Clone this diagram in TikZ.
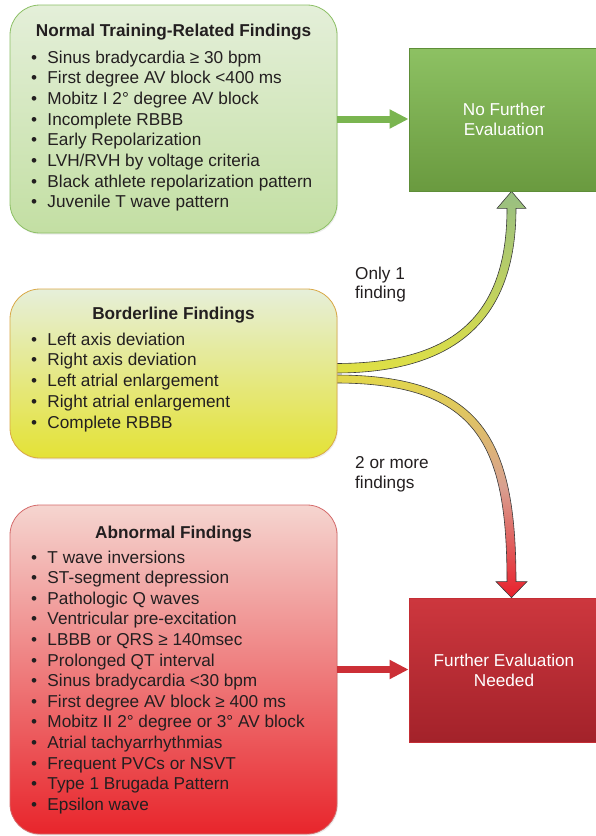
\documentclass[tikz,border=0pt]{standalone}
\usepackage{fontspec}
\setmainfont{Liberation Sans}
\usetikzlibrary{arrows.meta,calc,shadows,backgrounds}

\definecolor{ink}{HTML}{231F20}
\definecolor{normtop}{HTML}{E4EFD9}
\definecolor{normbot}{HTML}{C3DFA3}
\definecolor{normedge}{HTML}{8CBF65}
\definecolor{bordtop}{HTML}{E6EFDA}
\definecolor{bordbot}{HTML}{E4E235}
\definecolor{bordedge}{HTML}{D9A845}
\definecolor{abtop}{HTML}{F5D5D0}
\definecolor{abbot}{HTML}{E8252B}
\definecolor{abedge}{HTML}{D46A6A}
\definecolor{okTop}{HTML}{8DC163}
\definecolor{okBot}{HTML}{6A9A3F}
\definecolor{okEdge}{HTML}{5E8E38}
\definecolor{badTop}{HTML}{CD373E}
\definecolor{badBot}{HTML}{A3222A}
\definecolor{badEdge}{HTML}{C42E35}
\definecolor{gshaft}{HTML}{7AB550}
\definecolor{rshaft}{HTML}{CC2F36}
\definecolor{upgreen}{HTML}{98BF82}
\definecolor{upyellow}{HTML}{E0E044}
\definecolor{dnyellow}{HTML}{E2D84A}
\definecolor{dnpink}{HTML}{D9A090}
\definecolor{dnred}{HTML}{E8202C}
\definecolor{outline}{HTML}{3A3A3A}

\newcommand\diagfont{\fontsize{17.2}{20.7}\selectfont}
\newcommand\bul{\makebox[16.3pt][l]{\textbullet}}

\begin{document}
\begin{tikzpicture}[x=1pt,y=-1pt,
  findbox/.style={rounded corners=30pt, minimum width=327pt, inner sep=0pt,
    line width=0.8pt, drop shadow={opacity=0.15,shadow xshift=1pt,shadow yshift=-1.5pt}},
  outbox/.style={minimum width=190pt, inner sep=0pt, line width=0.8pt,
    text=white, align=center, font=\diagfont},
  item/.style={anchor=base west, inner sep=0pt, text=ink, font=\diagfont},
  head/.style={anchor=base, inner sep=0pt, text=ink, font=\diagfont\bfseries},
  note/.style={anchor=base west, inner sep=0pt, text=ink, font=\diagfont},
  flat arrow/.style={line width=7pt, -{Triangle[length=19pt,width=18pt]}},
  curve arrow/.style={draw=outline, line width=0.6pt, line join=miter}]

\useasboundingbox (0,0) rectangle (595,836);

% finding groups
\node[findbox, shade, top color=normtop, bottom color=normbot, draw=normedge,
  minimum height=228pt] (normal) at (173.5,119) {};
\node[findbox, shade, top color=bordtop, bottom color=bordbot, draw=bordedge,
  minimum height=169pt] (border) at (173.5,373.5) {};
\node[findbox, shade, top color=abtop, bottom color=abbot, draw=abedge,
  minimum height=329pt] (abnormal) at (173.5,669.5) {};

% outcomes
\node[outbox, shade, top color=okTop, bottom color=okBot, draw=okEdge,
  minimum height=143pt] (nf) at (504,119.5) {};
\node[outbox, shade, top color=badTop, bottom color=badBot, draw=badEdge,
  minimum height=144pt] (fe) at (504,670) {};
\node[outbox, anchor=base] (nft1) at (504,115.3) {No Further};
\node[outbox, anchor=base] (nft2) at (504,135.3) {Evaluation};
\node[outbox, anchor=base] (fet1) at (504,666) {Further Evaluation};
\node[outbox, anchor=base] (fet2) at (504,686) {Needed};

% headings
\node[head] (normalhead) at (173.5,36) {Normal Training-Related Findings};
\node[head] (borderhead) at (173.5,319) {Borderline Findings};
\node[head] (abnormalhead) at (173.5,538) {Abnormal Findings};

% bullet lists
\foreach \t [count=\i from 0] in {Sinus bradycardia ≥ 30 bpm,
  First degree AV block <400 ms, Mobitz I 2° degree AV block,
  Incomplete RBBB, Early Repolarization, LVH/RVH by voltage criteria,
  Black athlete repolarization pattern, Juvenile T wave pattern}
  \node[item] (n\i) at (31,{63+20.7*\i}) {\bul\t};

\foreach \t [count=\i from 0] in {Left axis deviation, Right axis deviation,
  Left atrial enlargement, Right atrial enlargement, Complete RBBB}
  \node[item] (b\i) at (31,{345+20.75*\i}) {\bul\t};

\foreach \t [count=\i from 0] in {T wave inversions, ST-segment depression,
  Pathologic Q waves, Ventricular pre-excitation, LBBB or QRS ≥ 140msec,
  Prolonged QT interval, Sinus bradycardia <30 bpm,
  First degree AV block ≥ 400 ms, Mobitz II 2° degree or 3° AV block,
  Atrial tachyarrhythmias, Frequent PVCs or NSVT, Type 1 Brugada Pattern,
  Epsilon wave}
  \node[item] (a\i) at (31,{563+20.6*\i}) {\bul\t};

% branch labels
\node[note] (one1) at (355,279) {Only 1};
\node[note] (one2) at (355,298.5) {finding};
\node[note] (two1) at (355,468.3) {2 or more};
\node[note] (two2) at (355,488.5) {findings};

% straight connectors
\draw[flat arrow, draw=gshaft] (normal.east) -- (normal.east -| nf.west);
\draw[flat arrow, draw=rshaft] (abnormal.east) -- (abnormal.east -| fe.west);

% forked connectors from the borderline group
\coordinate (fork) at (border.east);
\coordinate (uptip) at ($(nf.south)+(7.5,0)$);
\coordinate (dntip) at ($(fe.north)+(7.5,0)$);

\begin{scope}[on background layer]
\shadedraw[curve arrow, top color=upgreen, bottom color=upyellow]
  ($(fork)+(-2,-10)$) .. controls +(114,0) and +(0,111) .. ($(uptip)+(-4.5,17)$)
  -- ($(uptip)+(-14.5,17)$) -- (uptip) -- ($(uptip)+(14.5,17)$)
  -- ($(uptip)+(4.5,17)$)
  .. controls +(0,114) and +(117,0) .. ($(fork)+(-2,-0.5)$) -- cycle;
\shadedraw[curve arrow, top color=dnyellow, bottom color=dnred, middle color=dnpink]
  ($(fork)+(-2,1.5)$) .. controls +(147,0) and +(0,-142) .. ($(dntip)+(4.5,-16)$)
  -- ($(dntip)+(15.5,-16)$) -- (dntip) -- ($(dntip)+(-15.5,-16)$)
  -- ($(dntip)+(-4.5,-16)$)
  .. controls +(0,-136) and +(143,0) .. ($(fork)+(-2,9.5)$) -- cycle;
\end{scope}
\end{tikzpicture}
\end{document}
